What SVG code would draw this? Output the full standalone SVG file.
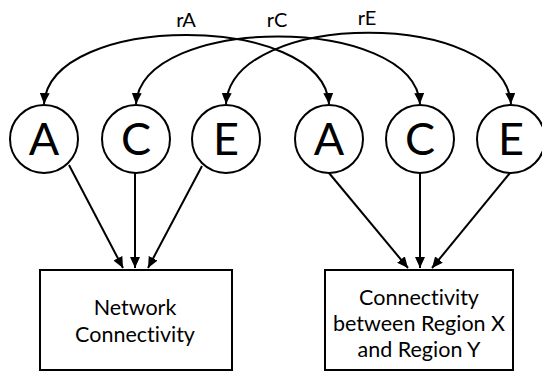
<svg xmlns="http://www.w3.org/2000/svg" width="542" height="374" viewBox="0 0 542 374">
<style>
text{font-variant-ligatures:none;font-feature-settings:"liga" 0,"dlig" 0}
.node circle,.node rect{fill:#fff;stroke:#000;stroke-width:2}
.lt{font-family:Lato,"Open Sans",sans-serif;font-size:45px;text-anchor:middle;fill:#000}
.bt{font-family:Lato,"Open Sans",sans-serif;font-size:21.5px;text-anchor:middle;fill:#000}
.rl{font-family:Lato,"Open Sans",sans-serif;font-size:20px;text-anchor:middle;fill:#000}
.cn path{fill:none;stroke:#000;stroke-width:2;marker-end:url(#ah)}
.cn path.dbl{marker-start:url(#ah)}
</style>
<defs>
<marker id="ah" markerUnits="userSpaceOnUse" markerWidth="11" markerHeight="10" refX="11" refY="5" orient="auto-start-reverse">
<path d="M0,0 L11,5 L0,10 z" fill="#000"/>
</marker>
</defs>
<g class="cn" id="connectors">
<path class="dbl" d="M44,104 C50,12 323,12 329,104"/>
<path class="dbl" d="M136,104 C142,14 414,14 420,104"/>
<path class="dbl" d="M226,104 C232,9 505,9 511,104"/>
<path d="M69,165 L123,268"/>
<path d="M135,173 L135,268"/>
<path d="M202,166 L148,268"/>
<path d="M329,173 L408,268"/>
<path d="M420,173 L420,268"/>
<path d="M510,173 L432,268"/>
</g>
<text class="rl" x="186" y="27">rA</text>
<text class="rl" x="277" y="27">rC</text>
<text class="rl" x="367" y="25">rE</text>
<g class="node" id="A1"><circle cx="44" cy="139" r="34"/><text class="lt" x="44" y="155">A</text></g>
<g class="node" id="C1"><circle cx="136" cy="139" r="34"/><text class="lt" x="136" y="155">C</text></g>
<g class="node" id="E1"><circle cx="226" cy="139" r="34"/><text class="lt" x="226" y="155">E</text></g>
<g class="node" id="A2"><circle cx="329" cy="139" r="34"/><text class="lt" x="329" y="155">A</text></g>
<g class="node" id="C2"><circle cx="420" cy="139" r="34"/><text class="lt" x="420" y="155">C</text></g>
<g class="node" id="E2"><circle cx="511" cy="139" r="34"/><text class="lt" x="511" y="155">E</text></g>
<g class="node" id="box1"><rect x="40" y="270" width="192" height="100"/>
<text class="bt" x="135" y="315">Network</text><text class="bt" x="135" y="342">Connectivity</text></g>
<g class="node" id="box2"><rect x="325" y="270" width="188" height="100"/>
<text class="bt" x="419" y="305">Connectivity</text><text class="bt" x="419" y="331">between Region X</text><text class="bt" x="419" y="357">and Region Y</text></g>
</svg>
